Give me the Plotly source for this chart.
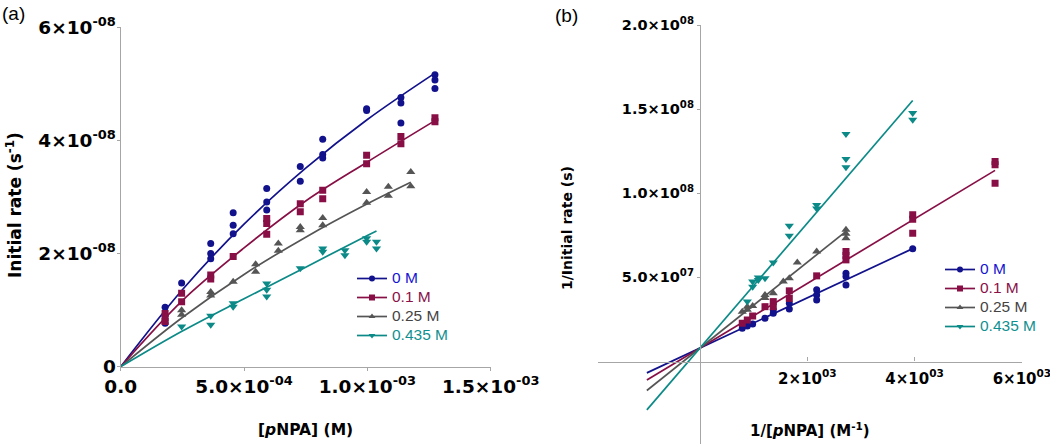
import plotly.graph_objects as go

# ---------------- data ----------------
series_names = ["0 M", "0.1 M", "0.25 M", "0.435 M"]
marker_colors = ["#12128c", "#870f45", "#555555", "#0b8a87"]
legend_text_colors = ["#1414d2", "#8b1048", "#444444", "#0f9090"]
symbols = ["circle", "square", "triangle-up", "triangle-down"]

# Panel (a): [pNPA] in units of 1e-3 M, initial rate in units of 1e-8 s^-1
a_conc_0 = [0.18, 0.18, 0.247, 0.365, 0.365, 0.365, 0.456, 0.456, 0.456, 0.592, 0.592, 0.592,
            0.728, 0.728, 0.819, 0.819, 0.819, 0.997, 0.997, 1.136, 1.136, 1.136, 1.274, 1.274, 1.274]
a_rate_0 = [1.05, 0.77, 1.48, 2.18, 2.00, 1.91, 2.72, 2.50, 2.35, 3.15, 2.91, 2.77,
            3.54, 3.28, 4.02, 3.75, 3.69, 4.56, 4.53, 4.76, 4.66, 4.31, 5.16, 5.07, 4.92]
a_conc_1 = [0.18, 0.18, 0.18, 0.247, 0.247, 0.365, 0.365, 0.456, 0.592, 0.592, 0.592, 0.728, 0.728,
            0.819, 0.819, 0.997, 0.997, 1.136, 1.136, 1.274, 1.274]
a_rate_1 = [0.94, 0.87, 0.80, 1.30, 1.15, 1.62, 1.55, 1.95, 2.62, 2.53, 2.34, 2.88, 2.74,
            3.12, 2.97, 3.74, 3.59, 4.07, 3.94, 4.40, 4.33]
a_conc_2 = [0.247, 0.247, 0.365, 0.365, 0.456, 0.547, 0.547, 0.639, 0.639, 0.728, 0.728,
            0.819, 0.819, 0.997, 0.997, 1.085, 1.085, 1.176, 1.176]
a_rate_2 = [1.00, 0.92, 1.32, 1.26, 1.50, 1.81, 1.68, 2.18, 2.05, 2.47, 2.41,
            2.63, 2.50, 3.09, 2.90, 3.18, 3.02, 3.44, 3.19]
a_conc_3 = [0.247, 0.365, 0.365, 0.456, 0.456, 0.592, 0.592, 0.592, 0.728, 0.819, 0.819,
            0.909, 0.909, 0.997, 0.997, 1.037, 1.037]
a_rate_3 = [0.71, 0.90, 0.74, 1.12, 1.06, 1.47, 1.36, 1.24, 1.74, 2.09, 2.03,
            2.06, 1.97, 2.27, 2.21, 2.21, 2.09]

# Panel (a) fitted curves (same units)
fit_a_conc_0 = [0, 0.25, 0.5, 0.75, 1.0, 1.274]
fit_a_rate_0 = [0, 1.36, 2.52, 3.51, 4.37, 5.19]
fit_a_conc_1 = [0, 0.25, 0.5, 0.75, 1.0, 1.274]
fit_a_rate_1 = [0, 1.17, 2.10, 2.93, 3.62, 4.35]
fit_a_conc_2 = [0, 0.25, 0.5, 0.75, 1.0, 1.176]
fit_a_rate_2 = [0, 0.87, 1.63, 2.29, 2.88, 3.26]
fit_a_conc_3 = [0, 0.25, 0.5, 0.75, 1.0, 1.037]
fit_a_rate_3 = [0, 0.63, 1.20, 1.76, 2.32, 2.40]

# Panel (b): 1/[pNPA] in units of 1e3 M^-1, 1/rate in units of 1e7 s
b_inv_conc_0 = [0.788, 0.882, 0.982, 1.212, 1.366, 1.366, 1.665, 1.665, 2.175, 2.175, 2.175,
                2.721, 2.721, 2.721, 3.965]
b_inv_rate_0 = [1.98, 2.11, 2.23, 2.57, 3.07, 2.87, 3.46, 3.12, 4.26, 3.95, 3.66,
                5.25, 5.05, 4.55, 6.70]
b_inv_conc_1 = [0.788, 0.882, 0.982, 1.212, 1.366, 1.366, 1.665, 1.665, 2.175,
                2.721, 2.721, 2.721, 3.965, 3.965, 3.965, 5.5, 5.5, 5.5]
b_inv_rate_1 = [2.27, 2.47, 2.71, 3.26, 3.56, 3.26, 4.20, 3.75, 5.09,
                6.54, 6.30, 6.04, 8.72, 8.45, 7.63, 11.89, 11.70, 10.60]
b_inv_conc_2 = [0.788, 0.882, 0.882, 0.982, 1.212, 1.212, 1.366, 1.553, 1.665, 1.814, 2.175,
                2.721, 2.721, 2.721]
b_inv_rate_2 = [2.96, 3.26, 3.07, 3.30, 3.96, 3.77, 4.06, 4.75, 4.95, 5.88, 6.54,
                7.83, 7.60, 7.33]
b_inv_conc_3 = [0.882, 0.982, 0.982, 1.087, 1.087, 1.212, 1.366, 1.665, 1.665, 2.175, 2.175,
                2.721, 2.721, 2.721, 3.965, 3.965]
b_inv_rate_3 = [3.56, 4.75, 4.45, 5.00, 4.85, 4.95, 5.88, 8.07, 7.47, 9.30, 9.10,
                13.52, 12.04, 11.54, 14.77, 14.37]

# Panel (b) fitted lines: common y-intercept and slopes (1e7 s per 1e3 M^-1), x extents
b_intercept = 0.8
b_slopes = [1.49, 1.92, 2.55, 3.71]
b_line_start = [-0.99, -0.99, -0.99, -0.99]
b_line_end = [3.965, 5.5, 2.721, 3.965]

# ---------------- figure ----------------
W, H = 1050, 444
def px_x(p):
    return p / W
def px_y(p):
    return 1 - p / H

a_conc = [a_conc_0, a_conc_1, a_conc_2, a_conc_3]
a_rate = [a_rate_0, a_rate_1, a_rate_2, a_rate_3]
fa_conc = [fit_a_conc_0, fit_a_conc_1, fit_a_conc_2, fit_a_conc_3]
fa_rate = [fit_a_rate_0, fit_a_rate_1, fit_a_rate_2, fit_a_rate_3]
b_x = [b_inv_conc_0, b_inv_conc_1, b_inv_conc_2, b_inv_conc_3]
b_y = [b_inv_rate_0, b_inv_rate_1, b_inv_rate_2, b_inv_rate_3]

fig = go.Figure()
msize = [7, 7, 8, 8]
lw = 1.7

for i in range(4):
    fig.add_trace(go.Scatter(
        x=[v * 1e-3 for v in fa_conc[i]], y=[v * 1e-8 for v in fa_rate[i]],
        mode="lines", line=dict(color=marker_colors[i], width=lw, shape="spline"),
        xaxis="x", yaxis="y", showlegend=False, hoverinfo="skip"))
    fig.add_trace(go.Scatter(
        x=[v * 1e-3 for v in a_conc[i]], y=[v * 1e-8 for v in a_rate[i]],
        mode="markers", marker=dict(color=marker_colors[i], symbol=symbols[i], size=msize[i]),
        xaxis="x", yaxis="y", showlegend=False))
    xs = [b_line_start[i], b_line_end[i]]
    fig.add_trace(go.Scatter(
        x=[v * 1e3 for v in xs],
        y=[(b_intercept + b_slopes[i] * v) * 1e7 for v in xs],
        mode="lines", line=dict(color=marker_colors[i], width=lw),
        xaxis="x2", yaxis="y2", showlegend=False, hoverinfo="skip"))
    fig.add_trace(go.Scatter(
        x=[v * 1e3 for v in b_x[i]], y=[v * 1e7 for v in b_y[i]],
        mode="markers", marker=dict(color=marker_colors[i], symbol=symbols[i], size=msize[i]),
        xaxis="x2", yaxis="y2", showlegend=False))

for i in range(4):
    label = '<span style="color:%s;font-size:15.5px">%s</span>' % (legend_text_colors[i], series_names[i])
    for lg, xa, ya in (("legend", "x", "y"), ("legend2", "x2", "y2")):
        fig.add_trace(go.Scatter(
            x=[None], y=[None], mode="lines+markers", name=label,
            line=dict(color=marker_colors[i], width=lw),
            marker=dict(color=marker_colors[i], symbol=symbols[i], size=6),
            xaxis=xa, yaxis=ya, legend=lg, showlegend=True))

def tfont(sz):
    return dict(family="DejaVu Sans", size=sz, color="black", weight="bold")
axis_color = "#a6a6a6"

fig.update_layout(
    width=W, height=H, margin=dict(l=0, r=0, t=0, b=0, autoexpand=False),
    paper_bgcolor="white", plot_bgcolor="white",
    font=dict(family="Liberation Sans", color="black"),
    xaxis=dict(domain=[px_x(120.7), px_x(490.7)], range=[0, 1.5e-3],
               tickvals=[0, 5e-4, 1e-3, 1.5e-3],
               ticktext=["0.0", "5.0×10<sup>-04</sup>", "1.0×10<sup>-03</sup>", "1.5×10<sup>-03</sup>"],
               showline=True, linecolor=axis_color, linewidth=1.3, ticks="outside", ticklen=3,
               tickcolor=axis_color, showgrid=False, zeroline=False, tickfont=tfont(18.5),
               anchor="y", automargin=False, ticklabeloverflow="allow"),
    yaxis=dict(domain=[px_y(366.7), px_y(27.3)], range=[0, 6e-8],
               tickvals=[0, 2e-8, 4e-8, 6e-8],
               ticktext=["0", "2×10<sup>-08</sup>", "4×10<sup>-08</sup>", "6×10<sup>-08</sup>"],
               showline=True, linecolor=axis_color, linewidth=1.3, ticks="outside", ticklen=3,
               tickcolor=axis_color, showgrid=False, zeroline=False, tickfont=tfont(18.5),
               ticklabelstandoff=-3, anchor="x", automargin=False, ticklabeloverflow="allow"),
    xaxis2=dict(domain=[px_x(598.3), px_x(1021.9)], range=[-1.895e3, 6e3],
                tickvals=[2e3, 4e3, 6e3],
                ticktext=["2×10<sup>03</sup>", "4×10<sup>03</sup>", "6×10<sup>03</sup>"],
                showline=True, linecolor=axis_color, linewidth=1.3, ticks="inside", ticklen=4,
                tickcolor=axis_color, showgrid=False, zeroline=False, tickfont=tfont(15),
                ticklabelstandoff=3, anchor="free", position=px_y(361.5), automargin=False,
                ticklabeloverflow="allow"),
    yaxis2=dict(domain=[0, px_y(25)], range=[-4.903e7, 2.0e8],
                tickvals=[5e7, 1e8, 1.5e8, 2e8],
                ticktext=["5.0×10<sup>07</sup>", "1.0×10<sup>08</sup>", "1.5×10<sup>08</sup>", "2.0×10<sup>08</sup>"],
                showline=True, linecolor=axis_color, linewidth=1.3, ticks="outside", ticklen=3,
                tickcolor=axis_color, showgrid=False, zeroline=False, tickfont=tfont(14.5),
                anchor="free", position=px_x(700), automargin=False, ticklabeloverflow="allow"),
    legend=dict(x=px_x(352), y=px_y(264), xanchor="left", yanchor="top",
                bgcolor="rgba(0,0,0,0)", font=dict(family="Liberation Sans", size=11),
                tracegroupgap=0, itemwidth=30),
    legend2=dict(x=px_x(940), y=px_y(255), xanchor="left", yanchor="top",
                 bgcolor="rgba(0,0,0,0)", font=dict(family="Liberation Sans", size=11),
                 tracegroupgap=0, itemwidth=30),
)

annos = [
    dict(text="(a)", x=px_x(0), y=px_y(13), xanchor="left", yanchor="middle",
         font=dict(family="Liberation Sans", size=19, color="black")),
    dict(text="(b)", x=px_x(553), y=px_y(16), xanchor="left", yanchor="middle",
         font=dict(family="Liberation Sans", size=19, color="black")),
    dict(text="<b>[<i>p</i>NPA] (M)</b>", x=px_x(305), y=px_y(430),
         xanchor="center", yanchor="middle", font=dict(family="DejaVu Sans", size=15.5, color="black")),
    dict(text="<b>Initial rate (s<sup>-1</sup>)</b>", x=px_x(14), y=px_y(205), textangle=-90,
         xanchor="center", yanchor="middle", font=dict(family="DejaVu Sans", size=17, color="black")),
    dict(text="<b>1/[<i>p</i>NPA] (M<sup>-1</sup>)</b>", x=px_x(810), y=px_y(430),
         xanchor="center", yanchor="middle", font=dict(family="DejaVu Sans", size=15, color="black")),
    dict(text="<b>1/Initial rate (s)</b>", x=px_x(567), y=px_y(228), textangle=-90,
         xanchor="center", yanchor="middle", font=dict(family="DejaVu Sans", size=14, color="black")),
]
for a in annos:
    a.update(xref="paper", yref="paper", showarrow=False)
fig.update_layout(annotations=annos)

fig.write_html("out.html", config={"displayModeBar": False},
               post_script="document.body.style.margin='0';")
